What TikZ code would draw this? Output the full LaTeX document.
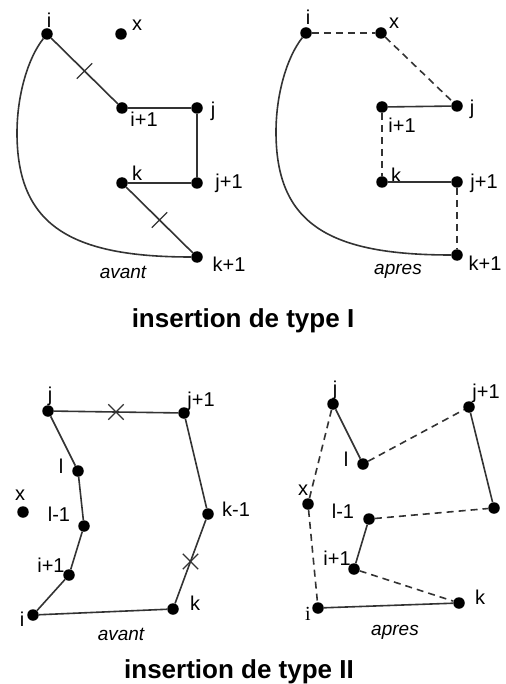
\documentclass[tikz,border=0pt]{standalone}
\usepackage{fontspec}
\setmainfont{Liberation Sans}
\newfontfamily\serifi{Liberation Serif}
\usepackage{tikz}
\usetikzlibrary{calc, shapes.misc}

\tikzset{
    pt/.style={circle, fill=black, inner sep=0pt, minimum size=11.5pt},
    edge/.style={line width=1.6pt, draw=black!80},
    dashedge/.style={edge, dash pattern=on 7pt off 5pt},
    cut/.style={cross out, draw=black!80, line width=1.4pt, inner sep=0pt, minimum size=14pt},
    lbl/.style={inner sep=1pt, font=\fontsize{20}{22}\selectfont},
    caption/.style={inner sep=1pt, font=\fontsize{19}{22}\selectfont\itshape},
    title/.style={inner sep=0pt, anchor=base, font=\fontsize{26}{30}\selectfont\bfseries},
}

\begin{document}
\begin{tikzpicture}[x=1pt, y=-1pt]
    \useasboundingbox (0,0) rectangle (505,684);

    % type I -- avant
    \node[pt] (Ai)  at (47,34)   {};
    \node[pt] (Ax)  at (121,34)  {};
    \node[pt] (Aip) at (122,108) {};
    \node[pt] (Aj)  at (197,108) {};
    \node[pt] (Ak)  at (122,183) {};
    \node[pt] (Ajp) at (197,183) {};
    \node[pt] (Akp) at (197,257) {};
    \coordinate (Aw) at (17,133);

    \node[lbl] (Ai-l)  at (49,20)   {i};
    \node[lbl] (Ax-l)  at (137,25)  {x};
    \node[lbl] (Aip-l) at (144,119) {i+1};
    \node[lbl] (Aj-l)  at (213,111) {j};
    \node[lbl] (Ak-l)  at (137,173) {k};
    \node[lbl] (Ajp-l) at (229,183) {j+1};
    \node[lbl] (Akp-l) at (229,264) {k+1};
    \node[caption] (Acap) at (123,272) {avant};

    \draw[edge] (Ai) -- (Aip);
    \draw[edge] (Aip) -- (Aj);
    \draw[edge] (Aj) -- (Ajp);
    \draw[edge] (Ak) -- (Ajp);
    \draw[edge] (Ak) -- (Akp);
    \draw[edge] (Ai) .. controls (28,58) and (17,95) .. (Aw)
                     .. controls (17,225) and (70,257) .. (Akp);
    \node[cut] (Ac1) at ($(Ai)!0.5!(Aip)$) {};
    \node[cut] (Ac2) at ($(Ak)!0.5!(Akp)$) {};

    % type I -- apres
    \node[pt] (Bi)  at (306,33)  {};
    \node[pt] (Bx)  at (381,33)  {};
    \node[pt] (Bip) at (382,107) {};
    \node[pt] (Bj)  at (457,106) {};
    \node[pt] (Bk)  at (382,182) {};
    \node[pt] (Bjp) at (457,182) {};
    \node[pt] (Bkp) at (457,255) {};
    \coordinate (Bw) at (276,132);

    \node[lbl] (Bi-l)  at (308,17)  {i};
    \node[lbl] (Bx-l)  at (394,23)  {x};
    \node[lbl] (Bip-l) at (402,125) {i+1};
    \node[lbl] (Bj-l)  at (472,109) {j};
    \node[lbl] (Bk-l)  at (396,175) {k};
    \node[lbl] (Bjp-l) at (484,183) {j+1};
    \node[lbl] (Bkp-l) at (485,263) {k+1};
    \node[caption] (Bcap) at (398,271) {apres};

    \draw[dashedge] (Bi) -- (Bx);
    \draw[dashedge] (Bx) -- (Bj);
    \draw[edge] (Bip) -- (Bj);
    \draw[dashedge] (Bip) -- (Bk);
    \draw[edge] (Bk) -- (Bjp);
    \draw[dashedge] (Bjp) -- (Bkp);
    \draw[edge] (Bi) .. controls (287,57) and (276,94) .. (Bw)
                     .. controls (276,224) and (329,255) .. (Bkp);

    \node[title] (T1) at (243,327) {insertion de type I};

    % type II -- avant
    \node[pt] (Cj)  at (48,411)  {};
    \node[pt] (Cjp) at (184,413) {};
    \node[pt] (Cl)  at (78,471)  {};
    \node[pt] (Cx)  at (23,512)  {};
    \node[pt] (Clm) at (84,526)  {};
    \node[pt] (Cip) at (69,575)  {};
    \node[pt] (Ci)  at (33,615)  {};
    \node[pt] (Ck)  at (173,609) {};
    \node[pt] (Ckm) at (208,514) {};

    \node[lbl] (Cj-l)  at (50,396)  {j};
    \node[lbl] (Cjp-l) at (201,401) {j+1};
    \node[lbl] (Cl-l)  at (61,466)  {l};
    \node[lbl] (Cx-l)  at (20,495)  {x};
    \node[lbl] (Clm-l) at (59,514)  {l-1};
    \node[lbl] (Cip-l) at (51,565)  {i+1};
    \node[lbl] (Ci-l)  at (22,619)  {i};
    \node[lbl] (Ck-l)  at (195,603) {k};
    \node[lbl] (Ckm-l) at (236,509) {k-1};
    \node[caption] (Ccap) at (121,634) {avant};

    \draw[edge] (Cj) -- (Cjp);
    \draw[edge] (Cj) -- (Cl);
    \draw[edge] (Cl) -- (Clm);
    \draw[edge] (Clm) -- (Cip);
    \draw[edge] (Cip) -- (Ci);
    \draw[edge] (Ci) -- (Ck);
    \draw[edge] (Ck) -- (Ckm);
    \draw[edge] (Ckm) -- (Cjp);
    \node[cut] (Cc1) at ($(Cj)!0.5!(Cjp)$) {};
    \node[cut] (Cc2) at ($(Ckm)!0.5!(Ck)$) {};

    % type II -- apres
    \node[pt] (Dj)  at (333,404) {};
    \node[pt] (Djp) at (469,407) {};
    \node[pt] (Dl)  at (363,464) {};
    \node[pt] (Dx)  at (308,504) {};
    \node[pt] (Dkm) at (494,508) {};
    \node[pt] (Dlm) at (369,519) {};
    \node[pt] (Dip) at (354,569) {};
    \node[pt] (Di)  at (318,608) {};
    \node[pt] (Dk)  at (459,603) {};

    \node[lbl] (Dj-l)  at (335,390) {j};
    \node[lbl] (Djp-l) at (486,393) {j+1};
    \node[lbl] (Dl-l)  at (346,459) {l};
    \node[lbl] (Dx-l)  at (303,490) {x};
    \node[lbl] (Dlm-l) at (343,511) {l-1};
    \node[lbl] (Dip-l) at (337,558) {i+1};
    \node[lbl, font=\fontsize{20}{22}\selectfont\serifi] (Di-l) at (308,614) {i};
    \node[lbl] (Dk-l)  at (480,597) {k};
    \node[caption] (Dcap) at (395,632) {apres};

    \draw[edge] (Dj) -- (Dl);
    \draw[dashedge] (Dj) -- (Dx);
    \draw[dashedge] (Dx) -- (Di);
    \draw[dashedge] (Dl) -- (Djp);
    \draw[edge] (Djp) -- (Dkm);
    \draw[dashedge] (Dlm) -- (Dkm);
    \draw[edge] (Dlm) -- (Dip);
    \draw[dashedge] (Dip) -- (Dk);
    \draw[edge] (Di) -- (Dk);

    \node[title] (T2) at (239,678) {insertion de type II};
\end{tikzpicture}
\end{document}
